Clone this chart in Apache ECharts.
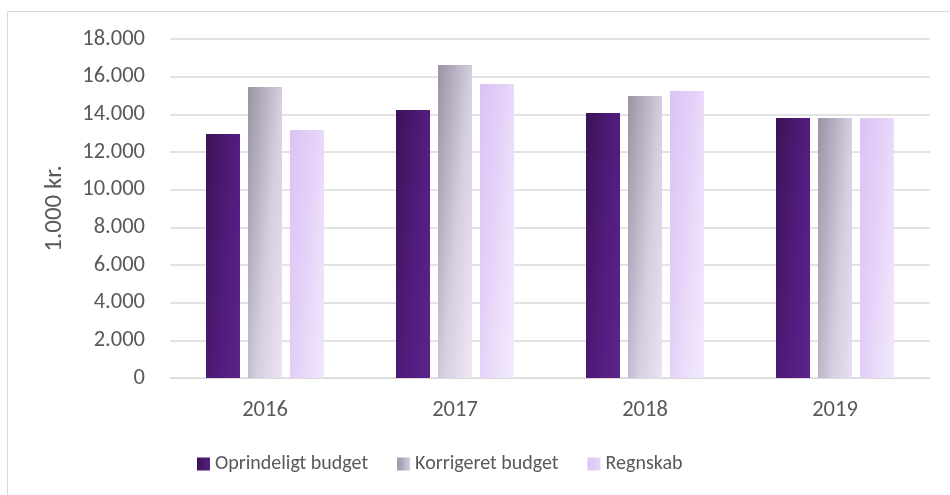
<!DOCTYPE html>
<html><head><meta charset="utf-8">
<script src="https://cdn.jsdelivr.net/npm/echarts@6/dist/echarts.min.js"></script>
<style>html,body{margin:0;padding:0;background:#fff}#c{width:950px;height:495px}</style>
</head><body><div id="c"></div>
<script>
const categories = ['2016', '2017', '2018', '2019'];
const seriesNames = ['Oprindeligt budget', 'Korrigeret budget', 'Regnskab'];
const oprindeligt = [12950, 14230, 14070, 13800];
const korrigeret = [15450, 16620, 14980, 13800];
const regnskab = [13170, 15610, 15240, 13800];
const yTicks = [0, 2000, 4000, 6000, 8000, 10000, 12000, 14000, 16000, 18000];
const yName = '1.000 kr.';

const FONT = 'Carlito, Lato, sans-serif';
function grad(c) {
  return new echarts.graphic.LinearGradient(0, 0, 1.77, 0.018, [
    {offset: 0, color: c[0]}, {offset: 0.44, color: c[1]},
    {offset: 0.56, color: c[2]}, {offset: 1, color: c[3]}
  ]);
}
const colors = [
  ['#3a1357', '#4f1b78', '#541c7f', '#5f2590'],
  ['#9a93a3', '#c8c0d3', '#d5cde0', '#efe5f7'],
  ['#dbc3f5', '#e5d2f8', '#e9dafa', '#f4ecfd']
];
const values = [oprindeligt, korrigeret, regnskab];
const fmt = v => String(v).replace(/\B(?=(\d{3})+(?!\d))/g, '.');

const chart = echarts.init(document.getElementById('c'), null, {renderer: 'canvas'});
chart.setOption({
  animation: false,
  backgroundColor: '#ffffff',
  textStyle: {fontFamily: FONT},
  graphic: [{
    type: 'rect', left: 5, top: 9, silent: true,
    shape: {x: 0.5, y: 0.5, width: 960, height: 500},
    style: {fill: 'none', stroke: '#d9d9d9', lineWidth: 1}
  }],
  grid: {left: 170, right: 20, top: 39, bottom: 117, containLabel: false},
  legend: {
    data: seriesNames, bottom: 16, left: 192,
    itemWidth: 13, itemHeight: 13, itemGap: 29,
    icon: 'rect',
    textStyle: {fontFamily: FONT, fontSize: 20, color: '#595959'}
  },
  xAxis: {
    type: 'category', data: categories,
    axisLine: {lineStyle: {color: '#d9d9d9', width: 1}},
    axisTick: {show: false},
    axisLabel: {color: '#595959', fontSize: 22.5, fontFamily: FONT, margin: 21}
  },
  yAxis: {
    type: 'value', min: yTicks[0], max: yTicks[yTicks.length - 1], interval: yTicks[1] - yTicks[0],
    name: yName, nameLocation: 'middle', nameGap: 103, nameRotate: 90,
    nameTextStyle: {color: '#595959', fontSize: 25, fontFamily: FONT},
    axisLine: {show: false}, axisTick: {show: false},
    axisLabel: {color: '#595959', fontSize: 22.5, fontFamily: FONT, margin: 25, formatter: fmt},
    splitLine: {lineStyle: {color: '#dadada', width: 1.5}}
  },
  series: seriesNames.map((n, i) => ({
    name: n, type: 'bar', data: values[i],
    barWidth: 34, barGap: '23.5%', barCategoryGap: '38%',
    itemStyle: {color: grad(colors[i])}
  }))
});
</script></body></html>
